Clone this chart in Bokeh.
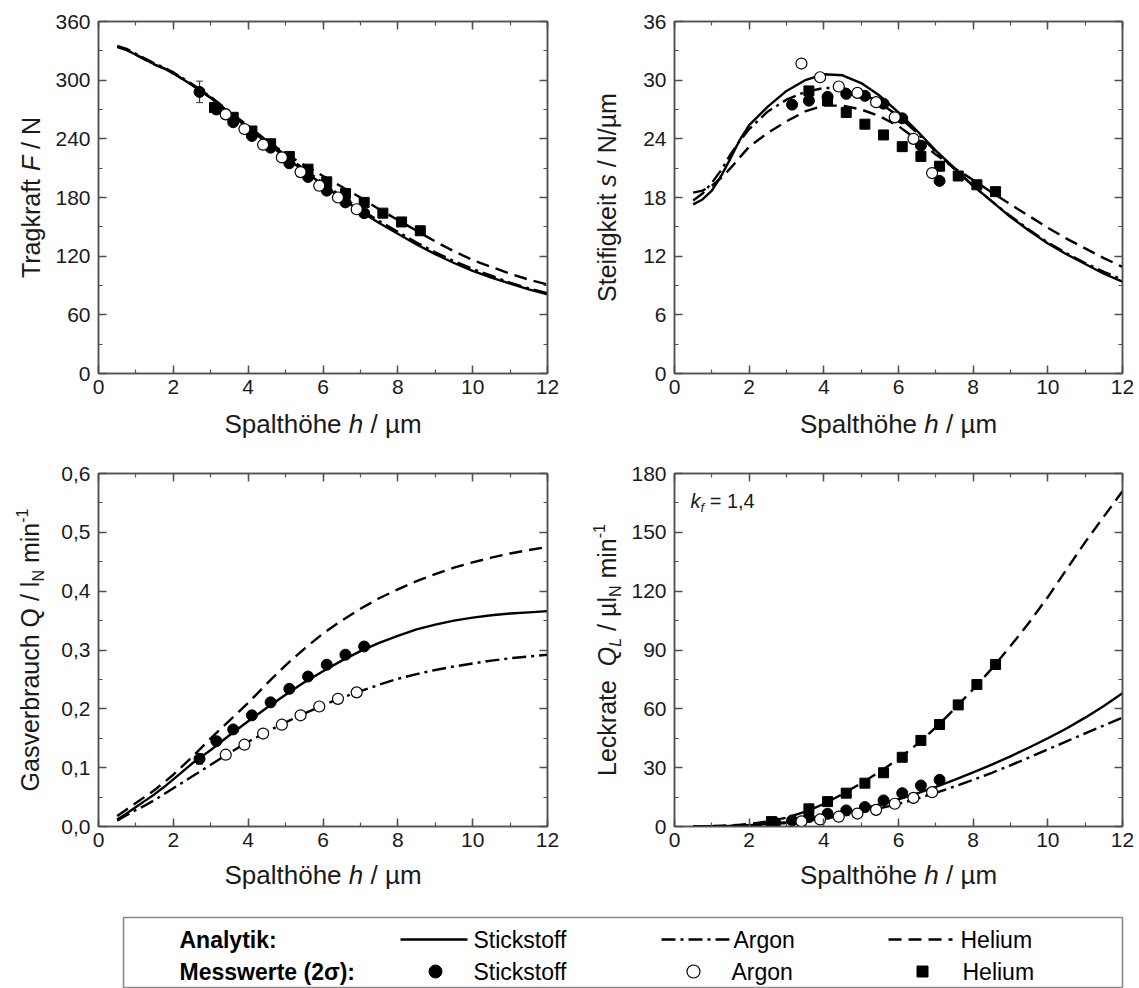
from bokeh.plotting import figure
from bokeh.models import (Range1d, LinearAxis, SingleIntervalTicker, FixedTicker, Label,
                          CustomJSTickFormatter, Whisker, ColumnDataSource)
from bokeh.layouts import column, row
from bokeh.embed import file_html
from bokeh.resources import INLINE
from bokeh.core.properties import value

# ---------------- data ----------------
h_curve = [0.5, 0.75, 1.0, 1.25, 1.5, 1.75, 2.0, 2.5, 3.0, 3.5, 4.0, 4.5, 5.0, 5.5,
           6.0, 6.5, 7.0, 7.5, 8.0, 8.5, 9.0, 9.5, 10.0, 10.5, 11.0, 11.5, 12.0]

# Tragkraft F / N (analytic)
F_N2 = [334, 331, 326, 321, 316, 312, 307, 295, 282, 266, 251, 236, 221, 207,
        193, 179, 166, 154, 143, 132, 122, 113, 105, 98, 92, 86, 81]
F_Ar = [335, 332, 327, 322, 317, 313, 308, 296, 283, 268, 253, 238, 223, 209,
        195, 181, 168, 156, 145, 134, 124, 115, 107, 100, 93, 87, 82]
F_He = [334, 331, 326, 321, 316, 312, 307, 295, 282, 267, 252, 238, 225, 213,
        202, 191, 180, 168, 157, 146, 135, 125, 116, 109, 102, 96, 91]

# Steifigkeit s / N/um (analytic)
s_N2 = [17.3, 17.8, 18.7, 20.2, 22.0, 23.9, 25.4, 27.3, 28.9, 30.0, 30.6, 30.5, 29.7, 28.4,
        26.7, 24.8, 22.8, 21.0, 19.2, 17.6, 16.0, 14.6, 13.3, 12.2, 11.2, 10.2, 9.4]
s_Ar = [17.7, 18.4, 19.5, 20.8, 22.4, 23.8, 25.0, 26.8, 28.0, 28.8, 29.2, 29.2, 28.7, 27.7,
        26.3, 24.6, 22.7, 20.9, 19.2, 17.6, 16.1, 14.7, 13.4, 12.3, 11.3, 10.4, 9.6]
s_He = [18.5, 18.7, 19.2, 20.0, 21.0, 22.1, 23.2, 24.6, 25.8, 26.8, 27.4, 27.4, 27.0, 26.3,
        25.3, 23.9, 22.4, 21.0, 19.8, 18.5, 17.3, 16.1, 14.9, 13.8, 12.8, 11.8, 10.9]

# Gasverbrauch Q / lN min^-1 (analytic)
Q_N2 = [0.012, 0.022, 0.033, 0.044, 0.055, 0.067, 0.080, 0.107, 0.130, 0.155, 0.179, 0.202, 0.224, 0.245,
        0.264, 0.282, 0.298, 0.312, 0.324, 0.335, 0.343, 0.350, 0.355, 0.359, 0.362, 0.364, 0.366]
Q_Ar = [0.010, 0.019, 0.028, 0.036, 0.045, 0.055, 0.065, 0.085, 0.105, 0.125, 0.144, 0.161, 0.177, 0.192,
        0.206, 0.219, 0.230, 0.241, 0.251, 0.259, 0.266, 0.272, 0.277, 0.282, 0.286, 0.289, 0.292]
Q_He = [0.018, 0.029, 0.040, 0.051, 0.062, 0.075, 0.088, 0.118, 0.150, 0.180, 0.210, 0.243, 0.274, 0.302,
        0.328, 0.350, 0.370, 0.388, 0.403, 0.417, 0.429, 0.440, 0.449, 0.457, 0.464, 0.470, 0.475]

# Leckrate QL / ul_N min^-1 (analytic)
QL_N2 = [0.0, 0.05, 0.1, 0.2, 0.3, 0.5, 0.7, 1.3, 2.2, 3.4, 4.9, 6.7, 8.8, 11.2,
         13.9, 16.9, 20.2, 23.8, 27.6, 31.6, 35.8, 40.3, 45.0, 50.0, 55.5, 61.5, 68.0]
QL_Ar = [0.0, 0.05, 0.1, 0.2, 0.3, 0.45, 0.6, 1.1, 1.8, 2.8, 4.0, 5.5, 7.3, 9.3,
         11.5, 14.2, 17.2, 20.4, 23.8, 27.4, 31.2, 35.2, 39.3, 43.4, 47.5, 51.5, 55.5]
QL_He = [0.0, 0.1, 0.2, 0.4, 0.6, 0.9, 1.3, 2.6, 4.5, 7.5, 11.5, 16.5, 22.0, 28.0,
         34.5, 42.0, 50.5, 60.0, 70.0, 80.5, 92.0, 104.0, 117.0, 131.0, 145.0, 158.0, 171.0]

# Measured values (Messwerte)
h_m_N2 = [2.7, 3.15, 3.6, 4.1, 4.6, 5.1, 5.6, 6.1, 6.6, 7.1]
h_m_Ar = [3.4, 3.9, 4.4, 4.9, 5.4, 5.9, 6.4, 6.9]
h_m_He = [3.1, 3.6, 4.1, 4.6, 5.1, 5.6, 6.1, 6.6, 7.1, 7.6, 8.1, 8.6]

Fm_N2 = [288, 270, 257, 243, 231, 215, 201, 187, 175, 164]
Fm_Ar = [265, 250, 234, 221, 206, 192, 180, 168]
Fm_He = [272, 262, 248, 235, 222, 209, 196, 184, 175, 164, 155, 146]

h_s_N2 = [3.15, 3.6, 4.1, 4.6, 5.1, 5.6, 6.1, 6.6, 7.1]
sm_N2 = [27.5, 27.9, 28.3, 28.6, 28.4, 27.6, 26.1, 23.3, 19.7]
sm_Ar = [31.7, 30.3, 29.35, 28.7, 27.75, 26.2, 24.0, 20.5]
h_s_He = [3.6, 4.1, 4.6, 5.1, 5.6, 6.1, 6.6, 7.1, 7.6, 8.1, 8.6]
sm_He = [28.9, 27.9, 26.7, 25.5, 24.4, 23.2, 22.2, 21.2, 20.2, 19.3, 18.6]

Qm_N2 = [0.115, 0.145, 0.165, 0.189, 0.211, 0.234, 0.255, 0.275, 0.292, 0.306]
Qm_Ar = [0.122, 0.139, 0.158, 0.173, 0.189, 0.204, 0.217, 0.228]

QLm_N2 = [1.9, 3.1, 4.8, 6.5, 8.2, 9.9, 13.3, 17.0, 20.9, 23.8]
QLm_Ar = [2.6, 3.6, 5.0, 6.6, 8.5, 11.6, 14.6, 17.5]
h_QL_He = [2.6, 3.6, 4.1, 4.6, 5.1, 5.6, 6.1, 6.6, 7.1, 7.6, 8.1, 8.6]
QLm_He = [2.5, 9.0, 12.7, 17.0, 22.1, 27.4, 35.3, 43.9, 52.0, 62.0, 72.4, 82.6]

# 2-sigma error bars visible at the first Stickstoff point
err_h = [2.7]
err_F = [11]
err_Q = [0.009]

Q_ticks = [0.0, 0.1, 0.2, 0.3, 0.4, 0.5, 0.6]
Q_minor = [0.05, 0.15, 0.25, 0.35, 0.45, 0.55]

# axis titles: (text, italic, kind)  kind 0 normal, -1 subscript, +1 superscript
x_title = [("Spalthöhe ", False, 0), ("h", True, 0), (" / µm", False, 0)]
y_title_F = [("Tragkraft ", False, 0), ("F", True, 0), (" / N", False, 0)]
y_title_s = [("Steifigkeit ", False, 0), ("s", True, 0), (" / N/µm", False, 0)]
y_title_Q = [("Gasverbrauch Q / l", False, 0), ("N", False, -1), (" min", False, 0), ("-1", False, 1)]
y_title_QL = [("Leckrate  ", False, 0), ("Q", True, 0), ("L", True, -1), (" / µl", False, 0),
              ("N", False, -1), (" min", False, 0), ("-1", False, 1)]
kf_text = [("k", True, 0), ("f", True, -1), (" = 1,4", False, 0)]
leg_labels_gas = ["Stickstoff", "Argon", "Helium"]
leg_row_titles = ["Analytik:", "Messwerte (2σ):"]

# ---------------- styling ----------------
FONT = "Liberation Sans"
AX = "#505050"
TXT = "#1a1a1a"
DASH_HE = "13 7"
DASH_AR = "14 5 3 5"
LW = 2.4
TICK_FS = "21px"
MID = 0.35   # distance baseline -> text middle, in em

W_REG = {' ': 278, '/': 278, ',': 278, '=': 584, '-': 333, '(': 333, ')': 333, ':': 278,
         'A': 667, 'F': 611, 'G': 778, 'L': 556, 'N': 722, 'Q': 778, 'S': 667, 'T': 611, 'H': 722, 'M': 833,
         'a': 556, 'b': 556, 'c': 500, 'e': 556, 'f': 278, 'g': 556, 'h': 556, 'i': 222, 'k': 500,
         'l': 222, 'm': 833, 'n': 556, 'o': 556, 'p': 556, 'r': 333, 's': 500, 't': 278, 'u': 556,
         'v': 500, 'w': 722, 'y': 500, 'ö': 556, 'µ': 576}


def tw(s, size):
    return sum(W_REG.get(ch, 556) for ch in s) * size / 1000.0


def layout_rich(segs, size):
    small = round(size * 0.66)
    out = []
    pos = 0.0
    for t, it, kind in segs:
        sz = size if kind == 0 else small
        sh = 0.0 if kind == 0 else (-0.22 * size if kind < 0 else 0.42 * size)
        lead = len(t) - len(t.lstrip())
        start = pos + tw(t[:lead], sz)
        if t.strip():
            out.append((t.strip(), it, sz, start, sh + MID * sz))
        pos += tw(t, sz)
    return out, pos


def rich_glyph(fig, segs, cx, cy, size, rotated=False):
    """Centered rich text drawn with text glyphs in a pixel-coordinate figure.
    horizontal: (center x, baseline y); rotated: (baseline x, center y)."""
    items, total = layout_rich(segs, size)
    for txt, it, sz, start, sh in items:
        if rotated:
            x, y, ang = cx - sh, cy - total / 2 + start, 1.5707963
        else:
            x, y, ang = cx - total / 2 + start, cy + sh, 0.0
        fig.text(x=[x], y=[y], text=[txt], angle=ang, text_font=value(FONT),
                 text_font_style="italic" if it else "normal", text_font_size=value(f"{sz}px"),
                 text_align="left", text_baseline="middle", text_color=TXT)


def rich_label(p, segs, x, y, dx, dy, size):
    items, total = layout_rich(segs, size)
    for txt, it, sz, start, sh in items:
        p.add_layout(Label(x=x, y=y, x_offset=dx + start, y_offset=dy + sh, text=txt,
                           text_align="left", text_baseline="middle", text_font=FONT,
                           text_font_style="italic" if it else "normal",
                           text_font_size=f"{sz}px", text_color=TXT))


def style_axis(ax, standoff):
    ax.axis_line_color = AX
    ax.axis_line_width = 1.5
    ax.major_tick_line_color = AX
    ax.major_tick_line_width = 1.5
    ax.minor_tick_line_color = AX
    ax.minor_tick_line_width = 1.2
    ax.major_tick_in = 8
    ax.major_tick_out = 0
    ax.minor_tick_in = 4
    ax.minor_tick_out = 0
    ax.major_label_text_font = FONT
    ax.major_label_text_font_size = TICK_FS
    ax.major_label_text_color = TXT
    ax.major_label_standoff = standoff


def panel(width, height, bl, br, bt, bb, ymax, yticker, yformatter=None):
    p = figure(width=width, height=height, x_range=Range1d(0, 12), y_range=Range1d(0, ymax),
               output_backend="svg", toolbar_location=None,
               min_border_left=bl, min_border_right=br, min_border_top=bt, min_border_bottom=bb)
    p.title.visible = False
    p.xgrid.visible = False
    p.ygrid.visible = False
    p.outline_line_color = AX
    p.outline_line_width = 1.5
    p.background_fill_color = "white"
    p.border_fill_color = "white"
    xt = SingleIntervalTicker(interval=2, num_minor_ticks=2)
    p.xaxis.ticker = xt
    p.yaxis.ticker = yticker
    style_axis(p.xaxis[0], 6)
    style_axis(p.yaxis[0], 8)
    if yformatter is not None:
        p.yaxis[0].formatter = yformatter
    top = LinearAxis(ticker=xt, formatter=CustomJSTickFormatter(code="return ''"))
    style_axis(top, 0)
    p.add_layout(top, "above")
    right = LinearAxis(ticker=yticker, formatter=CustomJSTickFormatter(code="return ''"))
    style_axis(right, 0)
    p.add_layout(right, "right")
    return p


def strip(w, h, bt=0, bb=0):
    """Pixel-coordinate figure for texts; its frame spans h - bt - bb pixels."""
    f = figure(width=w, height=h, x_range=Range1d(0, w), y_range=Range1d(0, h - bt - bb),
               output_backend="svg", toolbar_location=None, x_axis_type=None, y_axis_type=None,
               min_border=0, min_border_left=0, min_border_right=0,
               min_border_top=bt, min_border_bottom=bb)
    f.title.visible = False
    f.outline_line_color = None
    f.background_fill_color = "white"
    f.border_fill_color = "white"
    return f


def curves(p, n2, ar, he):
    p.line(h_curve, he, line_color="black", line_width=LW, line_dash=DASH_HE)
    p.line(h_curve, ar, line_color="black", line_width=LW, line_dash=DASH_AR)
    p.line(h_curve, n2, line_color="black", line_width=LW, line_join="round")


def filled(p, x, y):
    p.scatter(x, y, marker="circle", size=11, fill_color="black", line_color="black")


def hollow(p, x, y):
    p.scatter(x, y, marker="circle", size=11, fill_color="white", line_color="black", line_width=1.2)


def squares(p, x, y):
    p.scatter(x, y, marker="square", size=10, fill_color="black", line_color="black")


def errbar(p, xs, ys, es):
    src = ColumnDataSource(dict(x=xs, lo=[y - e for y, e in zip(ys, es)], hi=[y + e for y, e in zip(ys, es)]))
    w = Whisker(source=src, base="x", lower="lo", upper="hi", line_color="#333333", line_width=1.2)
    w.upper_head.size = 7
    w.lower_head.size = 7
    w.upper_head.line_color = "#333333"
    w.lower_head.line_color = "#333333"
    p.add_layout(w)


# ---------------- geometry ----------------
ROW_A_H = 405      # top border 21, frame 352, bottom 32
STRIP_A_H = 45
ROW_B_H = 408      # top border 23, frame 353, bottom 32
STRIP_B_H = 38
LEG_H = 92

# ---------------- panel 1: Tragkraft ----------------
p1 = panel(519, ROW_A_H, 48, 22, 21, 32, 360, SingleIntervalTicker(interval=60, num_minor_ticks=2))
curves(p1, F_N2, F_Ar, F_He)
errbar(p1, err_h, Fm_N2[:1], err_F)
squares(p1, h_m_He, Fm_He)
filled(p1, h_m_N2, Fm_N2)
hollow(p1, h_m_Ar, Fm_Ar)

# ---------------- panel 2: Steifigkeit ----------------
p2 = panel(515, ROW_A_H, 50, 17, 21, 32, 36, SingleIntervalTicker(interval=6, num_minor_ticks=2))
curves(p2, s_N2, s_Ar, s_He)
squares(p2, h_s_He, sm_He)
filled(p2, h_s_N2, sm_N2)
hollow(p2, h_m_Ar, sm_Ar)

# ---------------- panel 3: Gasverbrauch ----------------
comma = CustomJSTickFormatter(code="return tick.toFixed(1).replace('.', ',')")
p3 = panel(519, ROW_B_H, 48, 22, 23, 32, 0.6, FixedTicker(ticks=Q_ticks, minor_ticks=Q_minor), comma)
curves(p3, Q_N2, Q_Ar, Q_He)
errbar(p3, err_h, Qm_N2[:1], err_Q)
filled(p3, h_m_N2, Qm_N2)
hollow(p3, h_m_Ar, Qm_Ar)

# ---------------- panel 4: Leckrate ----------------
p4 = panel(515, ROW_B_H, 50, 17, 23, 32, 180, SingleIntervalTicker(interval=30, num_minor_ticks=2))
curves(p4, QL_N2, QL_Ar, QL_He)
squares(p4, h_QL_He, QLm_He)
filled(p4, h_m_N2, QLm_N2)
hollow(p4, h_m_Ar, QLm_Ar)
rich_label(p4, kf_text, 0, 180, 16, -34, 20)

# ---------------- axis title strips ----------------
yt1 = strip(50, ROW_A_H, 21, 32)
rich_glyph(yt1, y_title_F, 39, 176, 25, rotated=True)
yt2 = strip(55, ROW_A_H, 21, 32)
rich_glyph(yt2, y_title_s, 46, 176, 25, rotated=True)
yt3 = strip(50, ROW_B_H, 23, 32)
rich_glyph(yt3, y_title_Q, 38, 176.5, 25, rotated=True)
yt4 = strip(55, ROW_B_H, 23, 32)
rich_glyph(yt4, y_title_QL, 46, 176.5, 25, rotated=True)

xs1 = strip(1139, STRIP_A_H)
rich_glyph(xs1, x_title, 322.5, 17, 26)
rich_glyph(xs1, x_title, 898, 17, 26)
xs2 = strip(1139, STRIP_B_H)
rich_glyph(xs2, x_title, 322.5, 12, 26)
rich_glyph(xs2, x_title, 898, 12, 26)

# ---------------- legend ----------------
pl = strip(1139, LEG_H)
pl.quad(left=[123], right=[1122], bottom=[1], top=[71], fill_color=None, line_color="#8a8a8a", line_width=1.6)
pl.text(x=[179, 179], y=[49, 17], text=leg_row_titles, text_font=value(FONT), text_font_style="bold",
        text_font_size=value("23px"), text_baseline="middle", text_color="black")
pl.line([400, 467], [49, 49], line_color="black", line_width=LW)
pl.line([661, 729], [49, 49], line_color="black", line_width=LW, line_dash=DASH_AR)
pl.line([888, 952], [49, 49], line_color="black", line_width=LW, line_dash=DASH_HE)
pl.text(x=[473, 733, 960], y=[49, 49, 49], text=leg_labels_gas, text_font=value(FONT),
        text_font_size=value("23px"), text_baseline="middle", text_color="black")
pl.scatter([435], [17], marker="circle", size=13, fill_color="black", line_color="black")
pl.scatter([693], [17], marker="circle", size=13, fill_color="white", line_color="black", line_width=1.2)
pl.scatter([922], [17], marker="square", size=11, fill_color="black", line_color="black")
pl.text(x=[473, 731, 962], y=[17, 17, 17], text=leg_labels_gas, text_font=value(FONT),
        text_font_size=value("23px"), text_baseline="middle", text_color="black")

layout = column(row(yt1, p1, yt2, p2), xs1, row(yt3, p3, yt4, p4), xs2, pl)
open("out.html", "w").write(file_html(layout, INLINE))
